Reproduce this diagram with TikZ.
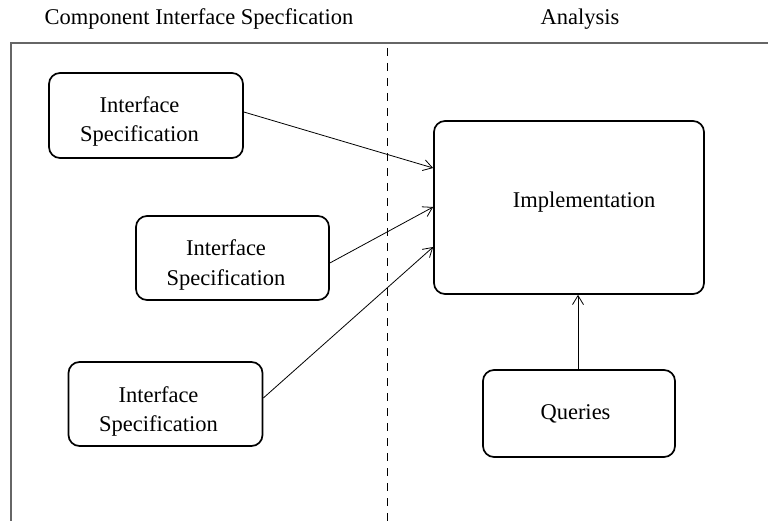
\documentclass[tikz,border=0pt]{standalone}
\usepackage{fontspec}
\setmainfont{Liberation Serif}
\usetikzlibrary{arrows.meta}
\begin{document}
\begin{tikzpicture}[x=1pt,y=-1pt,
  every node/.style={font=\fontsize{22.5}{29.5}\selectfont},
  block/.style={draw, line width=1.7pt, rounded corners=11pt, inner sep=0pt},
  caption/.style={align=center, inner sep=0pt},
  link/.style={line width=0.8pt, -{Straight Barb[length=9pt,width=11pt,line width=0.8pt]}},
  frameline/.style={draw=black!60, line width=1.4pt},
  divider/.style={line width=0.9pt, dash pattern=on 8pt off 7pt}]
\useasboundingbox (0,0) rectangle (768,521);
% column headings
\node[inner sep=0pt] (h1) at (199,19) {Component Interface Specfication};
\node[inner sep=0pt] (h2) at (580,19) {Analysis};
% outer frame
\draw[frameline] (11,521) -- (11,43) -- (768,43);
% column divider
\draw[divider] (387,48) -- (387,521);
% interface blocks
\node[block, minimum width=194pt, minimum height=85pt] (s1) at (146,115.5) {};
\node[caption] (t1) at (139.5,121.5) {Interface\\Specification};
\node[block, minimum width=193pt, minimum height=84pt] (s2) at (232.5,258) {};
\node[caption] (t2) at (226,265) {Interface\\Specification};
\node[block, minimum width=194pt, minimum height=84pt] (s3) at (165.5,404) {};
\node[caption] (t3) at (158.5,411.5) {Interface\\Specification};
% analysis blocks
\node[block, minimum width=270pt, minimum height=173pt] (impl) at (569,207.5) {};
\node[inner sep=0pt] (impltxt) at (584,202) {Implementation};
\node[block, minimum width=192pt, minimum height=87pt] (q) at (579,413.5) {};
\node[inner sep=0pt] (qtxt) at (575.5,414) {Queries};
% connectors
\draw[link] (s1.east |- 0,112) -- (impl.west |- 0,168);
\draw[link] (s2.east |- 0,263) -- (impl.west |- 0,207);
\draw[link] (s3.east |- 0,398) -- (impl.west |- 0,247);
\draw[link] (q.north -| 578,0) -- (impl.south -| 578,0);
\end{tikzpicture}
\end{document}
